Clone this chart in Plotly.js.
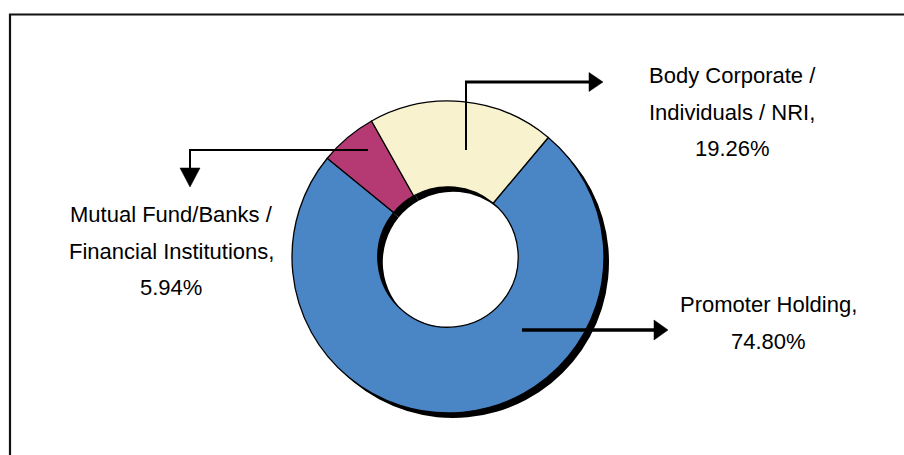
<!DOCTYPE html>
<html>
<head>
<meta charset="utf-8">
<script src="https://cdn.plot.ly/plotly-3.0.1.min.js"></script>
<style>html,body{margin:0;padding:0;background:#fff;}#chart{width:904px;height:455px;}</style>
</head>
<body>
<div id="chart"></div>
<script>
// ---- data ----
const categories = ["Promoter Holding", "Mutual Fund/Banks / Financial Institutions", "Body Corporate / Individuals / NRI"];
const shares = [74.80, 5.94, 19.26];
const labelLines = [["Promoter Holding,"], ["Mutual Fund/Banks /", "Financial Institutions,"], ["Body Corporate /", "Individuals / NRI,"]];
const sliceColors = ["#4a86c5", "#b53a73", "#f9f2cf"];

// ---- layout helpers (pixel -> paper) ----
const W = 904, H = 455;
const px = x => x / W;
const py = y => 1 - y / H;
const CX = 448, CY = 257, R = 156, OFF = 5;
const FONT = '"Liberation Sans", Arial, sans-serif';

function domainAt(cx, cy) {
  return { x: [px(cx - R), px(cx + R)], y: [py(cy + R), py(cy - R)] };
}

const shadow = {
  type: 'pie', values: shares, labels: categories, sort: false, direction: 'clockwise', rotation: 40,
  hole: 0.45, domain: domainAt(CX + OFF, CY + OFF), textinfo: 'none', hoverinfo: 'skip',
  marker: { colors: shares.map(() => '#000'), line: { width: 0 } }, showlegend: false
};
const donut = {
  type: 'pie', values: shares, labels: categories, sort: false, direction: 'clockwise', rotation: 40,
  hole: 0.45, domain: domainAt(CX, CY), textinfo: 'none', hoverinfo: 'label+percent',
  marker: { colors: sliceColors, line: { color: '#000', width: 1.3 } }, showlegend: false
};

// label placement (pixel): center x, first baseline y
const labelPos = [
  { x: 768, y: 312 },
  { x: 171, y: 222 },
  { x: 732, y: 83 }
];
const LINE_GAP = 36.5, FS = 22;
const annotations = [];
categories.forEach((c, i) => {
  const lines = labelLines[i].concat([shares[i].toFixed(2) + '%']);
  lines.forEach((t, j) => {
    const base = labelPos[i].y + j * LINE_GAP;
    annotations.push({
      xref: 'paper', yref: 'paper', x: px(labelPos[i].x), y: py(base - 0.34 * FS),
      xanchor: 'center', yanchor: 'middle', text: t, showarrow: false,
      font: { family: FONT, size: FS, color: '#000' }
    });
  });
});

function path(pts, close) {
  return pts.map((p, k) => (k ? 'L' : 'M') + px(p[0]).toFixed(5) + ',' + py(p[1]).toFixed(5)).join(' ') + (close ? ' Z' : '');
}
const shapes = [
  // chart border
  { type: 'rect', xref: 'paper', yref: 'paper', x0: px(10), x1: 1.05, y0: -0.05, y1: py(14.5), line: { color: '#111', width: 2.2 } },
  // Body corporate leader
  { type: 'path', xref: 'paper', yref: 'paper', path: path([[466, 150], [466, 82]]), line: { color: '#000', width: 2 } },
  { type: 'path', xref: 'paper', yref: 'paper', path: path([[465, 82], [592, 82]]), line: { color: '#000', width: 3 } },
  { type: 'path', xref: 'paper', yref: 'paper', path: path([[589, 72.5], [603, 82], [589, 91.5]], true), fillcolor: '#000', line: { color: '#000', width: 0.5 } },
  // Mutual fund leader
  { type: 'path', xref: 'paper', yref: 'paper', path: path([[368, 150], [190, 150], [190, 170]]), line: { color: '#000', width: 2 } },
  { type: 'path', xref: 'paper', yref: 'paper', path: path([[180, 168], [200, 168], [190, 187]], true), fillcolor: '#000', line: { color: '#000', width: 0.5 } },
  // Promoter leader
  { type: 'path', xref: 'paper', yref: 'paper', path: path([[522, 330], [656, 330]]), line: { color: '#000', width: 3.5 } },
  { type: 'path', xref: 'paper', yref: 'paper', path: path([[654, 320], [668, 330], [654, 340]], true), fillcolor: '#000', line: { color: '#000', width: 0.5 } }
];

Plotly.newPlot('chart', [shadow, donut], {
  width: W, height: H, margin: { l: 0, r: 0, t: 0, b: 0 },
  paper_bgcolor: '#fff', plot_bgcolor: '#fff', showlegend: false,
  annotations: annotations, shapes: shapes
}, { displayModeBar: false, staticPlot: true });
</script>
</body>
</html>
